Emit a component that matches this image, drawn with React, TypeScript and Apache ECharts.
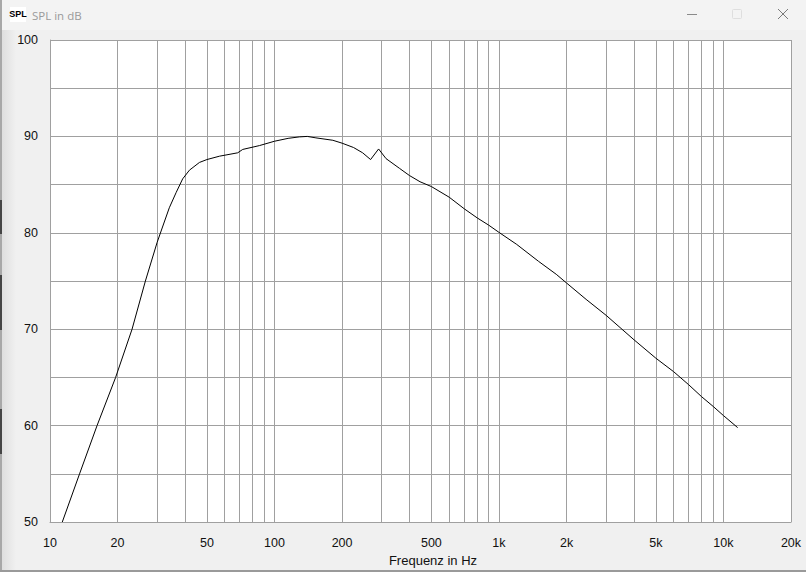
import React, { useEffect, useRef } from "react";
import * as echarts from "echarts";

const frequencies = [11.34, 13.54, 16.2, 19.6, 23.2, 26.6, 30, 31.6, 34, 36.5, 39, 41.8, 46.3, 50, 56.9, 68.6, 72.2, 85.7, 100, 115, 129, 140, 153, 182, 200, 225, 247, 268, 291, 314, 360, 399, 445, 500, 600, 700, 800, 900, 1000, 1200, 1500, 1800, 2000, 2445, 3000, 4000, 5000, 6000, 7000, 8000, 9000, 10000, 11570];
const splDb = [50, 55, 60, 65, 70, 75, 79, 80.5, 82.6, 84.2, 85.6, 86.5, 87.3, 87.6, 87.95, 88.3, 88.65, 89.05, 89.5, 89.8, 89.95, 90, 89.85, 89.6, 89.3, 88.85, 88.3, 87.6, 88.7, 87.7, 86.7, 85.95, 85.3, 84.8, 83.7, 82.5, 81.55, 80.8, 80.05, 78.8, 77.05, 75.7, 74.8, 73.1, 71.45, 68.9, 67, 65.6, 64.25, 63, 62, 61.05, 59.8];

const gridFrequencies = [10, 20, 30, 40, 50, 60, 70, 80, 90, 100, 200, 300, 400, 500, 600, 700, 800, 900, 1000, 2000, 3000, 4000, 5000, 6000, 7000, 8000, 9000, 10000, 20000];
const labelFrequencies = [10, 20, 50, 100, 200, 500, 1000, 2000, 5000, 10000, 20000];
const labelTexts = ["10", "20", "50", "100", "200", "500", "1k", "2k", "5k", "10k", "20k"];

const windowTitle = "SPL in dB";
const iconText = "SPL";
const xName = "Frequenz in Hz";

const GRID = "#a0a0a0";
const FONT = "'Liberation Sans', Arial, sans-serif";

export default function App() {
  const ref = useRef<HTMLDivElement>(null);
  useEffect(() => {
    document.body.style.margin = "0";
    const chart = echarts.init(ref.current!, null, { renderer: "svg" });
    chart.setOption({
      animation: false,
      backgroundColor: "#f0f0f0",
      grid: { left: 50, top: 40, width: 741, height: 483, backgroundColor: "#ffffff", show: true, borderWidth: 0 },
      xAxis: {
        type: "log",
        logBase: 10,
        min: 10,
        max: 20000,
        name: xName,
        nameLocation: "middle",
        nameGap: 29,
        nameTextStyle: { color: "#111", fontSize: 13, fontFamily: FONT, padding: [0, 0, 0, 25] },
        axisLine: { show: true, lineStyle: { color: GRID } },
        axisTick: { show: false, customValues: gridFrequencies },
        minorTick: { show: false },
        splitLine: { show: true, lineStyle: { color: GRID, width: 1 } },
        axisLabel: {
          customValues: labelFrequencies,
          margin: 14,
          color: "#111",
          fontSize: 12.5,
          fontFamily: FONT,
          hideOverlap: false,
          showMinLabel: true,
          showMaxLabel: true,
          formatter: (v: number) => {
            const i = labelFrequencies.findIndex((f) => Math.abs(f - v) / f < 0.001);
            return i >= 0 ? labelTexts[i] : "";
          },
        },
      },
      yAxis: {
        type: "value",
        min: 50,
        max: 100,
        interval: 5,
        axisLine: { show: true, lineStyle: { color: GRID } },
        axisTick: { show: false },
        splitLine: { show: true, lineStyle: { color: GRID, width: 1 } },
        axisLabel: {
          margin: 12,
          color: "#111",
          fontSize: 12.5,
          fontFamily: FONT,
          padding: [4, 0, 0, 0],
          formatter: (v: number) => (v % 10 === 0 ? String(v) : ""),
        },
      },
      series: [
        {
          type: "line",
          data: frequencies.map((f, i) => [f, splDb[i]]),
          showSymbol: false,
          smooth: false,
          lineStyle: { color: "#000000", width: 1 },
          silent: true,
        },
      ],
      graphic: [
        { type: "rect", z: -10, silent: true, shape: { x: 0, y: 0, width: 806, height: 30 }, style: { fill: "#f3f3f3" } },
        {
          type: "rect", z: -9, silent: true, shape: { x: 0, y: 30, width: 16, height: 542 },
          style: { fill: new echarts.graphic.LinearGradient(0, 0, 1, 0, [{ offset: 0, color: "#dcdcdc" }, { offset: 1, color: "#f0f0f0" }]) },
        },
        { type: "rect", z: 5, silent: true, shape: { x: 0, y: 0, width: 2, height: 572 }, style: { fill: "#a8a8a8" } },
        { type: "rect", z: 6, silent: true, shape: { x: 0, y: 200, width: 2, height: 34 }, style: { fill: "#444" } },
        { type: "rect", z: 6, silent: true, shape: { x: 0, y: 275, width: 2, height: 55 }, style: { fill: "#444" } },
        { type: "rect", z: 6, silent: true, shape: { x: 0, y: 409, width: 2, height: 45 }, style: { fill: "#444" } },
        { type: "rect", z: 5, silent: true, shape: { x: 0, y: 570, width: 806, height: 2 }, style: { fill: "#9a9a9a" } },
        { type: "rect", z: 5, silent: true, shape: { x: 10, y: 7, width: 16, height: 15 }, style: { fill: "#ffffff" } },
        { type: "text", z: 6, silent: true, x: 18, y: 14, style: { text: iconText, fill: "#000", font: "bold 9px " + FONT, align: "center", verticalAlign: "middle" } },
        { type: "text", z: 6, silent: true, x: 32, y: 15, style: { text: windowTitle, fill: "#9a9a9a", font: "11.5px 'Open Sans', sans-serif", align: "left", verticalAlign: "middle" } },
        { type: "line", z: 6, silent: true, shape: { x1: 687, y1: 14.5, x2: 697, y2: 14.5 }, style: { stroke: "#8a8a8a", lineWidth: 1 } },
        { type: "rect", z: 6, silent: true, shape: { x: 732.5, y: 9.5, width: 9, height: 9, r: 1 }, style: { fill: "none", stroke: "#dedede", lineWidth: 1 } },
        { type: "line", z: 6, silent: true, shape: { x1: 778, y1: 9, x2: 788, y2: 19 }, style: { stroke: "#7a7a7a", lineWidth: 1 } },
        { type: "line", z: 6, silent: true, shape: { x1: 788, y1: 9, x2: 778, y2: 19 }, style: { stroke: "#7a7a7a", lineWidth: 1 } },
      ],
    });
    return () => chart.dispose();
  }, []);
  return <div ref={ref} style={{ width: 806, height: 572 }} />;
}
